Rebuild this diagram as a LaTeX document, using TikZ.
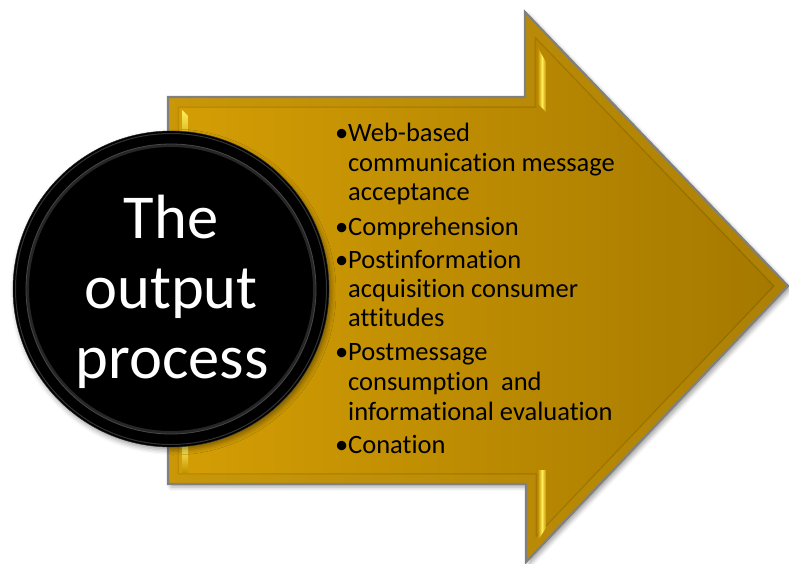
\documentclass[tikz,border=0pt]{standalone}
\usepackage{fontspec}
\setmainfont{Carlito}[Ligatures={NoCommon}]
\usetikzlibrary{shadows.blur}
\definecolor{goldL}{RGB}{212,158,4}
\definecolor{goldM}{RGB}{196,146,0}
\definecolor{goldD}{RGB}{164,120,0}
\definecolor{bevelHi}{RGB}{222,170,20}
\definecolor{hiY}{RGB}{255,238,90}
\definecolor{edgeGray}{RGB}{128,128,128}
\begin{document}
\begin{tikzpicture}[x=1pt,y=-1pt,
  bodytext/.style={anchor=base west, inner sep=0pt, font=\fontsize{26.5}{29}\selectfont, text=black},
  titletext/.style={anchor=base, inner sep=0pt, font=\fontsize{62.5}{70}\selectfont, text=white},
  hilite/.style={top color=hiY, bottom color=goldM, draw=none}]
\useasboundingbox (0,0) rectangle (789,564);
\coordinate (A) at (168,97);
\coordinate (B) at (525,97);
\coordinate (C) at (525,12);
\coordinate (D) at (788,286);
\coordinate (E) at (526,562);
\coordinate (F) at (526,484);
\coordinate (G) at (168,484);
\def\arrowpath{(A)--(B)--(C)--(D)--(E)--(F)--(G)--cycle}
% arrow body with shadow
\path[blur shadow={shadow xshift=3pt, shadow yshift=-3pt, shadow blur radius=4pt, shadow opacity=35},
      left color=goldL, right color=goldD] \arrowpath;
% bevel
\begin{scope}
  \clip \arrowpath;
  \draw[line width=22, black, opacity=0.1, line join=miter] \arrowpath;
  \draw[line width=19, bevelHi, opacity=0.35, line join=miter] \arrowpath;
  % bright highlight stripes on vertical edges
  \path[hilite] (182,110) -- (188,116) -- (188,150) -- (182,150) -- cycle;
  \path[hilite] (182,446) -- (188,446) -- (188,472) -- (182,472) -- cycle;
  \path[left color=goldM, right color=goldM, middle color=hiY] (538,48) -- (546,62) -- (546,112) -- (538,104) -- cycle;
  \path[left color=goldM, right color=goldM, middle color=hiY] (538,470) -- (546,470) -- (546,528) -- (538,540) -- cycle;
\end{scope}
\draw[edgeGray, line width=2.2, line join=miter] \arrowpath;
% circle
\node[circle, minimum size=316pt, inner sep=0pt, fill=black, draw=black!85,
      blur shadow={shadow xshift=2pt, shadow yshift=-3pt, shadow blur radius=5pt, shadow opacity=40}]
      (circ) at (171,289) {};
\draw[black!80, line width=1] (circ.center) circle (155.5);
\draw[black!85, line width=3] (circ.center) circle (143.5);
\draw[black!72, line width=0.8] (circ.center) circle (145);
\node[titletext] (t1) at (171,238) {The};
\node[titletext] (t2) at (171,308) {output};
\node[titletext] (t3) at (172,378) {process};
% bullet list
\node[bodytext] (l1) at (348,142) {\llap{•}Web-based};
\node[bodytext] (l2) at (348,171.5) {communication message};
\node[bodytext] (l3) at (348,200.5) {acceptance};
\node[bodytext] (l4) at (348,235) {\llap{•}Comprehension};
\node[bodytext] (l5) at (348,268) {\llap{•}Postinformation};
\node[bodytext] (l6) at (348,297) {acquisition consumer};
\node[bodytext] (l7) at (348,326.5) {attitudes};
\node[bodytext] (l8) at (348,360.5) {\llap{•}Postmessage};
\node[bodytext] (l9) at (348,390.5) {consumption\ \ and};
\node[bodytext] (l10) at (348,420) {informational evaluation};
\node[bodytext] (l11) at (348,453) {\llap{•}Conation};
\end{tikzpicture}
\end{document}
